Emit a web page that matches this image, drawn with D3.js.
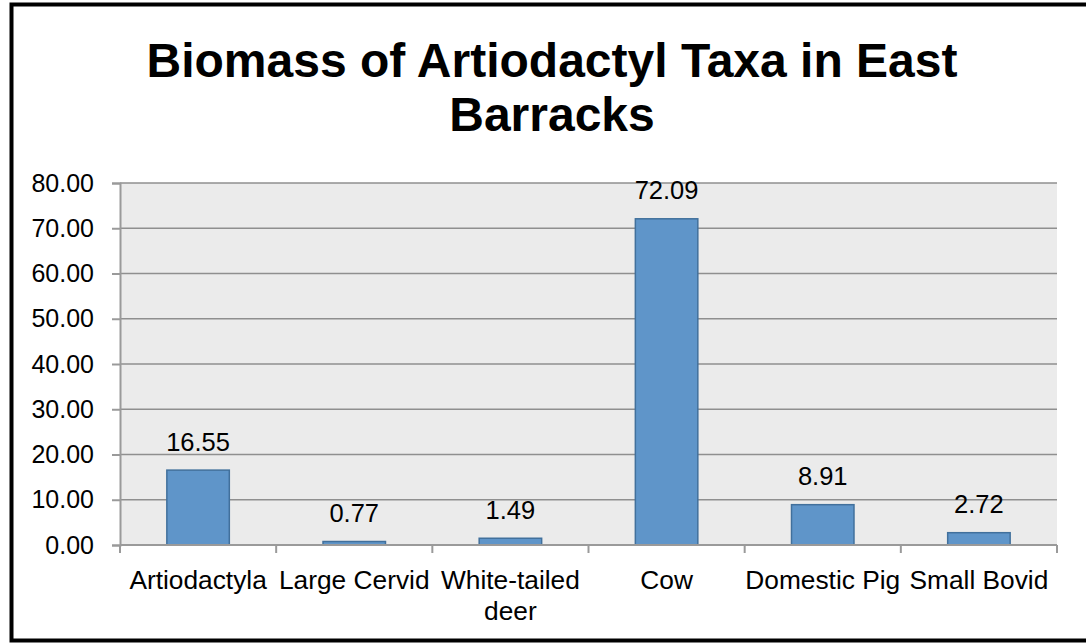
<!DOCTYPE html>
<html>
<head>
<meta charset="utf-8">
<script src="https://cdn.jsdelivr.net/npm/d3@7"></script>
<style>
  html, body { margin: 0; padding: 0; background: #fff; }
  svg { display: block; font-family: "Liberation Sans", Arial, sans-serif; }
</style>
</head>
<body>
<svg id="chart" width="1086" height="643"></svg>
<script>
// Biomass by artiodactyl taxon, East Barracks
const categories = ["Artiodactyla", "Large Cervid", "White-tailed deer", "Cow", "Domestic Pig", "Small Bovid"];
const categoryLines = [["Artiodactyla"], ["Large Cervid"], ["White-tailed", "deer"], ["Cow"], ["Domestic Pig"], ["Small Bovid"]];
const biomass = [16.55, 0.77, 1.49, 72.09, 8.91, 2.72];
const yTicks = [0, 10, 20, 30, 40, 50, 60, 70, 80];
const titleLines = ["Biomass of Artiodactyl Taxa in East", "Barracks"];

const W = 1086, H = 643;
const plot = { left: 120, right: 1057, top: 183, bottom: 545 };

const svg = d3.select("#chart");

// frame around the chart
svg.append("rect")
  .attr("x", 11.5).attr("y", 4.5)
  .attr("width", W + 10).attr("height", 636)
  .attr("fill", "none").attr("stroke", "#000").attr("stroke-width", 4);

// title
const title = svg.append("text")
  .attr("text-anchor", "middle")
  .attr("font-size", 48)
  .attr("font-weight", "bold")
  .attr("fill", "#000");
titleLines.forEach((t, i) => {
  title.append("tspan").attr("x", 552).attr("y", 77 + i * 54).text(t);
});

const x = d3.scaleBand()
  .domain(categories)
  .range([plot.left, plot.right])
  .paddingInner(0).paddingOuter(0);

const y = d3.scaleLinear()
  .domain([0, 80])
  .range([plot.bottom, plot.top]);

// plot area background
svg.append("rect")
  .attr("x", plot.left).attr("y", plot.top)
  .attr("width", plot.right - plot.left).attr("height", plot.bottom - plot.top)
  .attr("fill", "#ebebeb");

// horizontal gridlines
svg.append("g")
  .selectAll("line")
  .data(yTicks.filter(d => d > 0))
  .join("line")
  .attr("x1", plot.left).attr("x2", plot.right)
  .attr("y1", d => y(d)).attr("y2", d => y(d))
  .attr("stroke", "#8f8f8f").attr("stroke-width", 1.5);

// bars
const barW = x.bandwidth() / 2.5;
svg.append("g")
  .selectAll("rect")
  .data(biomass)
  .join("rect")
  .attr("x", (d, i) => x(categories[i]) + (x.bandwidth() - barW) / 2)
  .attr("y", d => y(d))
  .attr("width", barW)
  .attr("height", d => y(0) - y(d))
  .attr("fill", "#5f95c9")
  .attr("stroke", "#41709c")
  .attr("stroke-width", 1.5);

// value labels
svg.append("g")
  .selectAll("text")
  .data(biomass)
  .join("text")
  .attr("x", (d, i) => x(categories[i]) + x.bandwidth() / 2)
  .attr("y", d => y(d) - 19.5)
  .attr("text-anchor", "middle")
  .attr("font-size", 25.5)
  .attr("fill", "#000")
  .text(d => d.toFixed(2));

// y axis
const yAxis = svg.append("g")
  .attr("transform", `translate(${plot.left},0)`)
  .call(d3.axisLeft(y).tickValues(yTicks).tickFormat(d3.format(".2f")).tickSize(8).tickPadding(18));
yAxis.select(".domain").attr("stroke", "#9a9a9a").attr("stroke-width", 2);
yAxis.selectAll(".tick line").attr("stroke", "#9a9a9a").attr("stroke-width", 2);
yAxis.selectAll(".tick text")
  .attr("font-size", 25).attr("fill", "#000")
  .attr("font-family", "'Liberation Sans', Arial, sans-serif");

// x axis line and category boundary ticks
const xAxis = svg.append("g");
xAxis.append("line")
  .attr("x1", plot.left).attr("x2", plot.right)
  .attr("y1", y(0)).attr("y2", y(0))
  .attr("stroke", "#9a9a9a").attr("stroke-width", 2);
const boundaries = categories.map(c => x(c)).concat([x.range()[1]]);
xAxis.selectAll("line.bound")
  .data(boundaries)
  .join("line")
  .attr("class", "bound")
  .attr("x1", d => d).attr("x2", d => d)
  .attr("y1", y(0)).attr("y2", y(0) + 8)
  .attr("stroke", "#9a9a9a").attr("stroke-width", 2);

// category labels
const labels = svg.append("g")
  .selectAll("text")
  .data(categories)
  .join("text")
  .attr("text-anchor", "middle")
  .attr("font-size", 26.3)
  .attr("fill", "#000");
labels.each(function(c, i) {
  const t = d3.select(this);
  categoryLines[i].forEach((line, j) => {
    t.append("tspan")
      .attr("x", x(c) + x.bandwidth() / 2)
      .attr("y", 589 + j * 31)
      .text(line);
  });
});
</script>
</body>
</html>
